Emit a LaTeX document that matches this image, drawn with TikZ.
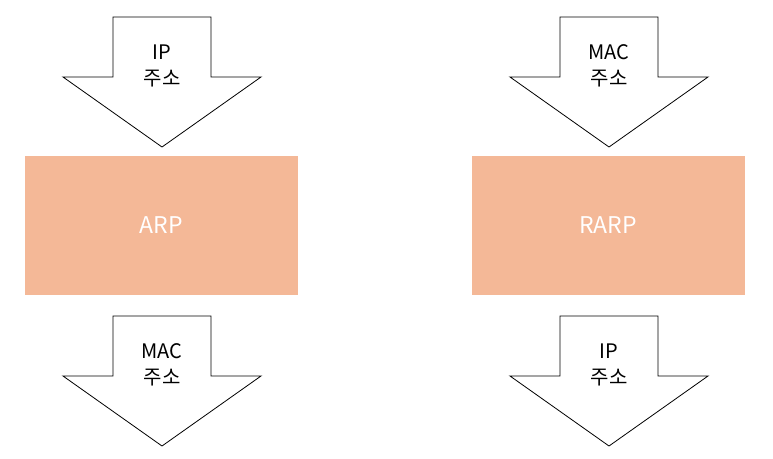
\documentclass[tikz,border=0pt]{standalone}
\usepackage{fontspec}
\setmainfont{Noto Sans CJK KR}
\usepackage{tikz}
\usetikzlibrary{positioning}
\definecolor{protofill}{RGB}{244,184,151}

\tikzset{
  protobox/.style={fill=protofill, draw=none, minimum width=273pt, minimum height=139pt, text=white, font=\fontsize{23}{26}\selectfont},
  addrtext/.style={align=center, font=\fontsize{20}{26}\selectfont},
  arrowline/.style={draw=black, line width=0.8pt, fill=white, line join=miter}
}

% down arrow with a label: name, centre x, top y, text
\newcommand{\addrarrow}[4]{%
  \draw[arrowline] (#2-49,#3) -- (#2+49,#3) -- (#2+49,#3+60) -- (#2+99,#3+60)
    -- (#2,#3+130) -- (#2-99,#3+60) -- (#2-49,#3+60) -- cycle;
  \node[addrtext] (#1) at (#2,#3+49) {#4};
}

\begin{document}
\begin{tikzpicture}[x=1pt, y=-1pt]
\useasboundingbox (0,0) rectangle (773,458);

% protocol boxes
\node[protobox] (arp) at (161.5,225.5) {ARP};
\node[protobox] (rarp) at (608,225.5) {RARP};

% input and output addresses
\addrarrow{arpin}{162}{17}{IP\\주소}
\addrarrow{arpout}{162}{316}{MAC\\주소}
\addrarrow{rarpin}{609}{17}{MAC\\주소}
\addrarrow{rarpout}{609}{316}{IP\\주소}
\end{tikzpicture}
\end{document}
